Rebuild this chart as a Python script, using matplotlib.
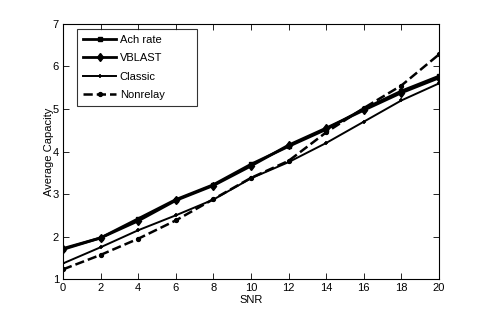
import matplotlib
matplotlib.use("Agg")
import matplotlib.pyplot as plt

snr = [0, 2, 4, 6, 8, 10, 12, 14, 16, 18, 20]
ach_rate = [1.72, 1.97, 2.42, 2.87, 3.22, 3.70, 4.12, 4.52, 5.00, 5.42, 5.77]
vblast = [1.70, 1.97, 2.37, 2.85, 3.20, 3.66, 4.15, 4.55, 4.97, 5.38, 5.73]
classic = [1.37, 1.75, 2.15, 2.50, 2.87, 3.37, 3.75, 4.20, 4.70, 5.20, 5.60]
nonrelay = [1.23, 1.57, 1.95, 2.38, 2.88, 3.38, 3.78, 4.45, 5.02, 5.55, 6.28]

plt.rcParams['font.family'] = ['Liberation Sans', 'DejaVu Sans']

fig = plt.figure(figsize=(4.85, 3.14), dpi=100)
ax = fig.add_axes([0.130, 0.111, 0.775, 0.813])

ax.plot(snr, ach_rate, '-', color='black', lw=2.0, marker='s', ms=3.5, label='Ach rate')
ax.plot(snr, vblast, '-', color='black', lw=2.0, marker='d', ms=4.5, label='VBLAST')
ax.plot(snr, classic, '-', color='black', lw=1.4, marker='+', ms=3, mew=1.2, label='Classic')
ax.plot(snr, nonrelay, '--', color='black', lw=1.8, marker='o', ms=2.8, label='Nonrelay')

ax.set_xlim(0, 20)
ax.set_ylim(1, 7)
ax.set_xticks(snr)
ax.set_yticks([1, 2, 3, 4, 5, 6, 7])
ax.tick_params(direction='in', top=True, right=True, labelsize=8, length=4, width=0.6, pad=3)
for s in ax.spines.values():
    s.set_linewidth(0.8)
ax.set_xlabel('SNR', fontsize=8, labelpad=1)
ax.set_ylabel('Average Capacity', fontsize=8, labelpad=-1)

# legend box: x 77..197 px, y 29..104 px in the figure
x0 = (77 - 63) / 376
x1 = (197 - 63) / 376
ytop = (279 - 29) / 255
ybot = (279 - 104) / 255
leg = ax.legend(loc='upper left', bbox_to_anchor=(x0, ybot, x1 - x0, ytop - ybot),
                mode='expand', fontsize=8,
                frameon=True, fancybox=False, edgecolor='black', handlelength=3.0,
                borderpad=0.55, labelspacing=0.75, handletextpad=0.3, borderaxespad=0)
leg.get_frame().set_linewidth(0.8)

fig.savefig('out.png', dpi=100)
